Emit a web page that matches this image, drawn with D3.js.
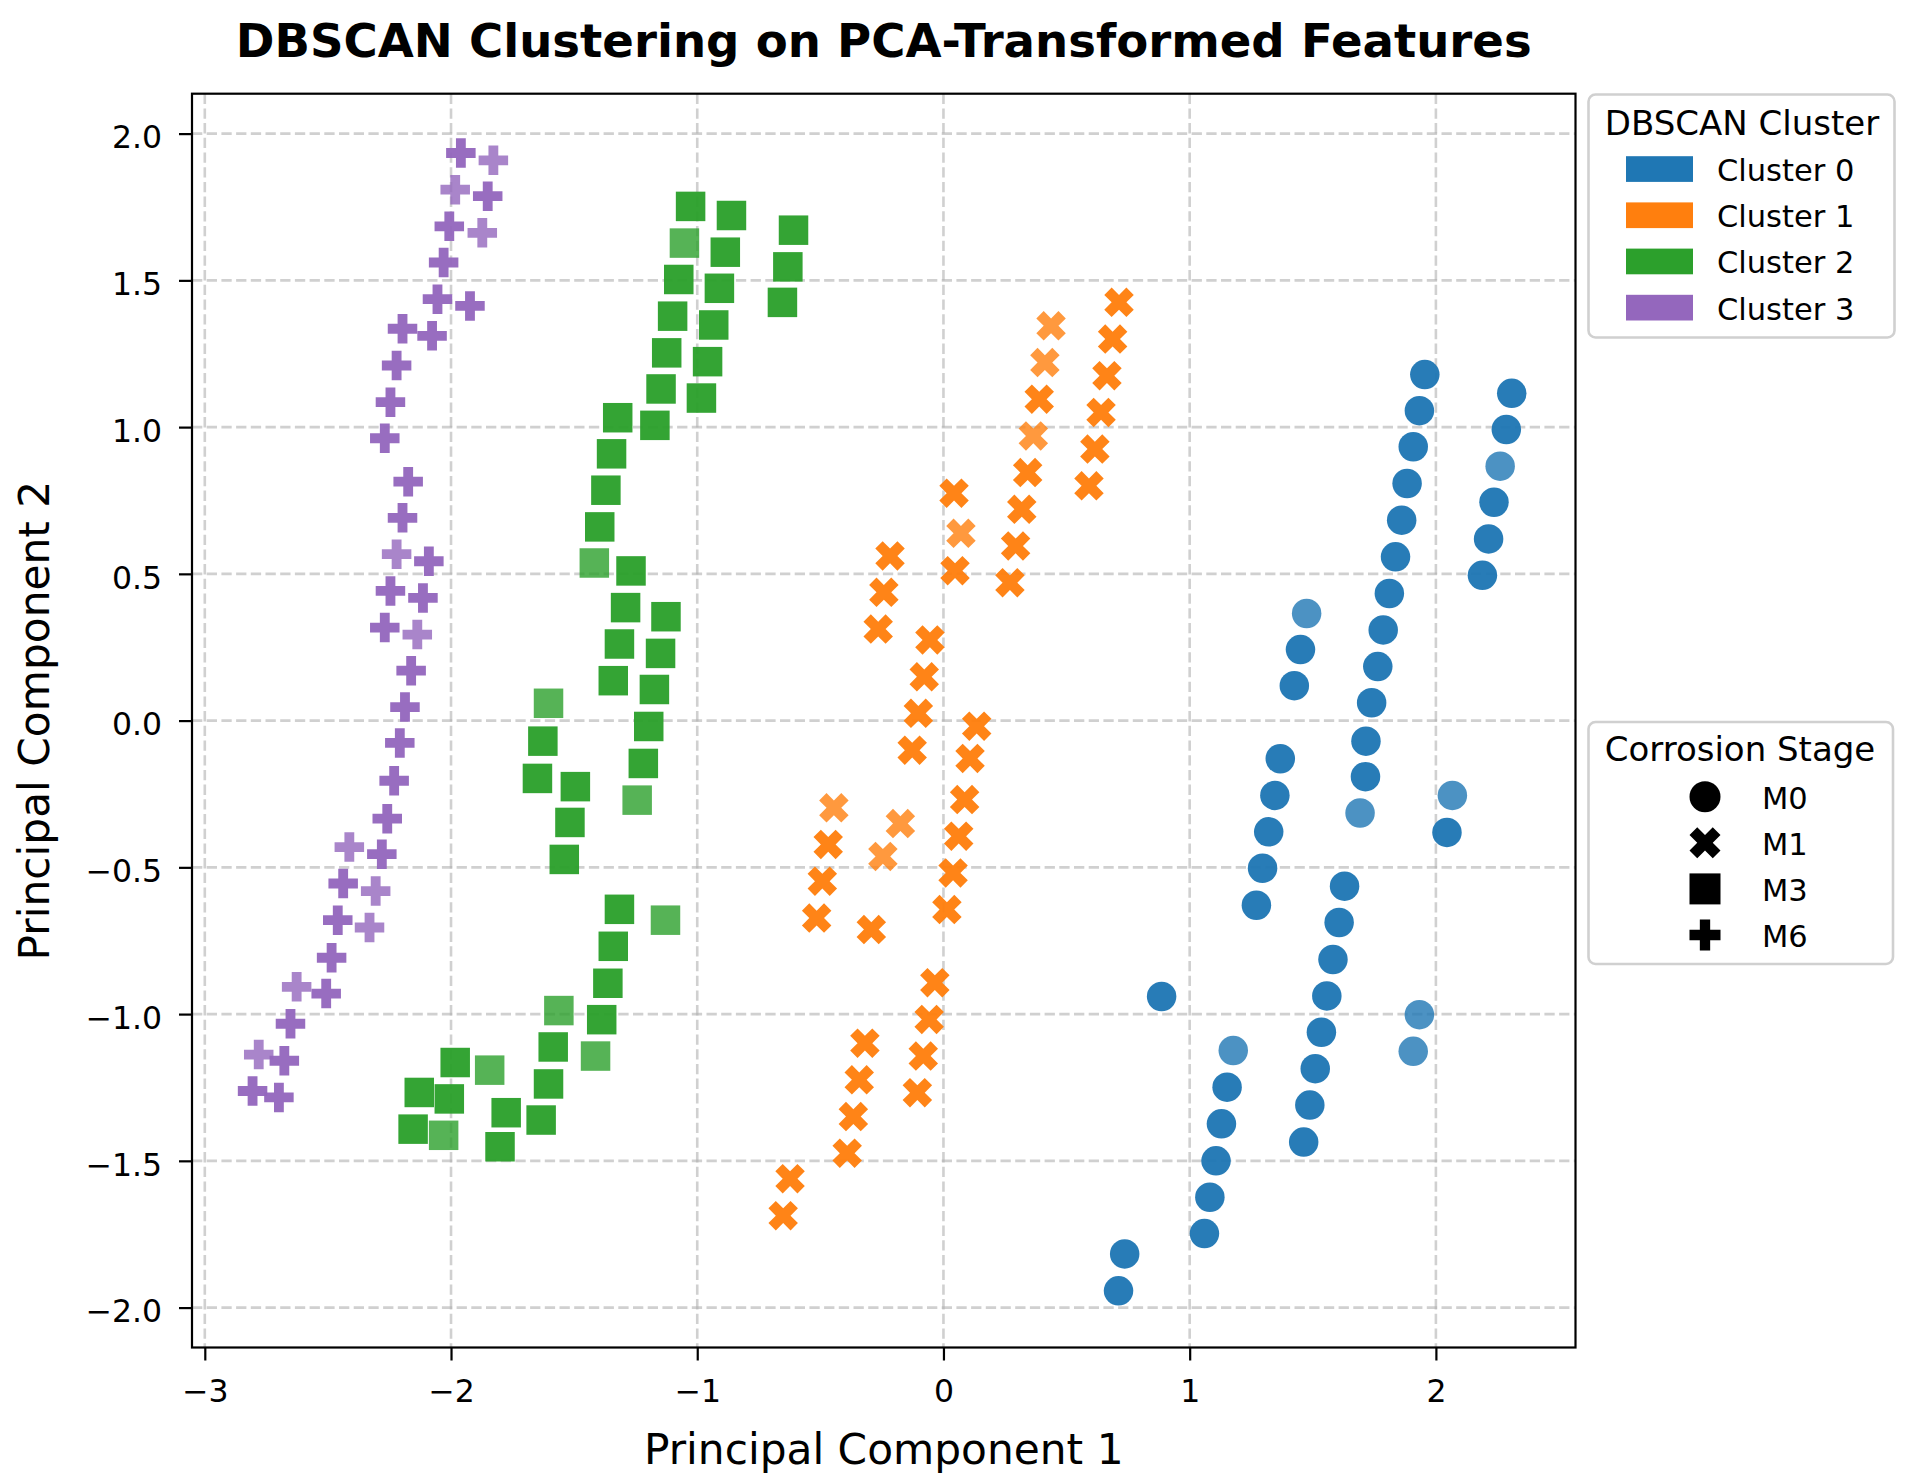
<!DOCTYPE html>
<html><head><meta charset="utf-8">
<script src="https://cdn.jsdelivr.net/npm/d3@7"></script>
<style>body{margin:0;background:#fff} text{font-family:"DejaVu Sans",sans-serif;fill:#000}</style>
</head><body><svg id="chart" width="1916" height="1483"></svg>
<script>
const clusterNames = ["Cluster 0", "Cluster 1", "Cluster 2", "Cluster 3"];
const clusterColors = ["#1f77b4", "#ff7f0e", "#2ca02c", "#9467bd"];
const stageNames = ["M0", "M1", "M3", "M6"];
const xTicks = [-3, -2, -1, 0, 1, 2];
const yTicks = [-2, -1.5, -1, -0.5, 0, 0.5, 1, 1.5, 2];

// points: [PC1, PC2, single] ; single = 1 -> lone (lighter) point, 0 -> overlapping duplicate
const cluster0 = [[1.955,1.179,0],[2.308,1.115,0],[1.933,1.056,0],[2.286,0.992,0],[1.908,0.933,0],[2.261,0.867,1],[1.883,0.808,0],[2.236,0.744,0],[1.861,0.683,0],[2.214,0.619,0],[1.836,0.558,0],[2.189,0.495,0],[1.811,0.433,0],[1.475,0.365,1],[1.786,0.309,0],[1.450,0.242,0],[1.764,0.184,0],[1.425,0.119,0],[1.739,0.061,0],[1.716,-0.070,0],[1.368,-0.130,0],[1.714,-0.191,0],[2.067,-0.255,1],[1.346,-0.255,0],[1.692,-0.315,1],[1.321,-0.379,0],[2.045,-0.381,0],[1.296,-0.503,0],[1.629,-0.564,0],[1.271,-0.629,0],[1.607,-0.688,0],[1.582,-0.814,0],[0.886,-0.940,0],[1.557,-0.938,0],[1.933,-1.002,1],[1.535,-1.062,0],[1.177,-1.124,1],[1.908,-1.127,1],[1.510,-1.186,0],[1.152,-1.249,0],[1.488,-1.310,0],[1.129,-1.374,0],[1.463,-1.436,0],[1.107,-1.500,0],[1.082,-1.624,0],[1.060,-1.748,0],[0.736,-1.817,0],[0.711,-1.943,0]];
const cluster1 = [[0.713,1.425,0],[0.437,1.345,1],[0.687,1.300,0],[0.412,1.220,1],[0.664,1.175,0],[0.389,1.095,0],[0.640,1.050,0],[0.365,0.970,1],[0.615,0.925,0],[0.342,0.845,0],[0.591,0.800,0],[0.318,0.720,0],[0.043,0.775,0],[0.071,0.638,1],[0.293,0.595,0],[0.047,0.511,0],[0.270,0.470,0],[-0.217,0.561,0],[-0.242,0.437,0],[-0.265,0.312,0],[-0.055,0.275,0],[-0.078,0.149,0],[-0.102,0.025,0],[0.135,-0.019,0],[-0.127,-0.101,0],[0.108,-0.129,0],[0.086,-0.269,0],[-0.445,-0.297,1],[-0.175,-0.351,1],[-0.468,-0.422,0],[0.062,-0.394,0],[-0.246,-0.463,1],[-0.492,-0.547,0],[0.039,-0.519,0],[-0.515,-0.673,0],[-0.293,-0.712,0],[0.014,-0.644,0],[-0.035,-0.893,0],[-0.058,-1.018,0],[-0.319,-1.099,0],[-0.082,-1.143,0],[-0.342,-1.224,0],[-0.106,-1.268,0],[-0.366,-1.349,0],[-0.391,-1.474,0],[-0.623,-1.561,0],[-0.651,-1.687,0]];
const cluster2 = [[-1.027,1.752,0],[-0.861,1.721,0],[-0.609,1.671,0],[-1.052,1.627,1],[-0.886,1.596,0],[-1.075,1.503,0],[-0.632,1.546,0],[-0.910,1.473,0],[-0.654,1.425,0],[-1.100,1.378,0],[-0.933,1.348,0],[-1.124,1.253,0],[-0.958,1.223,0],[-1.147,1.130,0],[-0.983,1.099,0],[-1.323,1.032,0],[-1.172,1.006,0],[-1.348,0.909,0],[-1.371,0.785,0],[-1.396,0.660,0],[-1.418,0.537,1],[-1.269,0.510,0],[-1.291,0.385,0],[-1.127,0.354,0],[-1.316,0.261,0],[-1.149,0.229,0],[-1.341,0.136,0],[-1.174,0.106,0],[-1.604,0.059,1],[-1.197,-0.020,0],[-1.627,-0.070,0],[-1.649,-0.197,0],[-1.219,-0.146,0],[-1.495,-0.225,0],[-1.244,-0.271,1],[-1.517,-0.347,0],[-1.540,-0.473,0],[-1.316,-0.643,0],[-1.129,-0.680,1],[-1.341,-0.769,0],[-1.363,-0.895,0],[-1.562,-0.988,1],[-1.388,-1.019,0],[-1.585,-1.112,0],[-1.413,-1.143,1],[-1.983,-1.165,0],[-1.843,-1.191,1],[-2.129,-1.267,0],[-2.007,-1.289,0],[-1.604,-1.238,0],[-1.776,-1.336,0],[-2.154,-1.392,0],[-2.030,-1.413,1],[-1.634,-1.361,0],[-1.801,-1.452,0]];
const cluster3 = [[-1.960,1.934,0],[-1.828,1.909,1],[-1.983,1.809,1],[-1.851,1.787,0],[-2.007,1.684,0],[-1.873,1.662,1],[-2.030,1.561,0],[-2.055,1.436,0],[-1.923,1.413,0],[-2.197,1.335,0],[-2.077,1.311,0],[-2.221,1.210,0],[-2.246,1.085,0],[-2.269,0.962,0],[-2.174,0.814,0],[-2.197,0.691,0],[-2.221,0.567,1],[-2.090,0.543,0],[-2.246,0.442,0],[-2.114,0.418,0],[-2.269,0.317,0],[-2.137,0.293,1],[-2.162,0.170,0],[-2.187,0.046,0],[-2.208,-0.076,0],[-2.231,-0.205,0],[-2.259,-0.334,0],[-2.413,-0.431,1],[-2.281,-0.455,0],[-2.438,-0.555,0],[-2.306,-0.581,1],[-2.460,-0.680,0],[-2.331,-0.705,1],[-2.485,-0.808,0],[-2.627,-0.907,1],[-2.507,-0.930,0],[-2.652,-1.033,0],[-2.781,-1.138,1],[-2.677,-1.159,0],[-2.806,-1.262,0],[-2.699,-1.284,0]];
const clusters = [cluster0, cluster1, cluster2, cluster3];

// ---------- layout ----------
const svg = d3.select("#chart");
const L = 192, R = 1575.5, T = 93.7, B = 1347.5;
const x = d3.scaleLinear().domain([-3.052, 2.567]).range([L, R]);
const y = d3.scaleLinear().domain([-2.136, 2.136]).range([B, T]);

svg.append("rect").attr("width", 1916).attr("height", 1483).attr("fill", "#fff");

// marker shapes (unit size 1, matplotlib-like)
const lineClosed = d3.line().curve(d3.curveLinearClosed);
const xFilled = [[-1,-2],[0,-1],[1,-2],[2,-1],[1,0],[2,1],[1,2],[0,1],[-1,2],[-2,1],[-1,0],[-2,-1]].map(p => [p[0]/4, p[1]/4]);
const plusFilled = [[-1,-3],[1,-3],[1,-1],[3,-1],[3,1],[1,1],[1,3],[-1,3],[-1,1],[-3,1],[-3,-1],[-1,-1]].map(p => [p[0]/6, p[1]/6]);
const square = [[-0.5,-0.5],[0.5,-0.5],[0.5,0.5],[-0.5,0.5]];
function markerPath(stage, s) {
  if (stage === 0) {
    const p = d3.path(); p.arc(0, 0, s / 2, 0, 2 * Math.PI); p.closePath(); return p.toString();
  }
  const pts = stage === 1 ? xFilled : stage === 2 ? square : plusFilled;
  return lineClosed(pts.map(v => [v[0] * s, v[1] * s]));
}

// grid
const grid = svg.append("g");
grid.selectAll(".gx").data(xTicks).join("line")
  .attr("x1", d => x(d)).attr("x2", d => x(d)).attr("y1", T).attr("y2", B)
  .attr("stroke", "#b0b0b0").attr("stroke-opacity", 0.6).attr("stroke-width", 2.6).attr("stroke-dasharray", "10.3 4.4");
grid.selectAll(".gy").data(yTicks).join("line")
  .attr("y1", d => y(d)).attr("y2", d => y(d)).attr("x1", L).attr("x2", R)
  .attr("stroke", "#b0b0b0").attr("stroke-opacity", 0.6).attr("stroke-width", 2.6).attr("stroke-dasharray", "10.3 4.4");

// points
const MS = 29.5;
clusters.forEach((pts, ci) => {
  svg.append("g").selectAll("path").data(pts).join("path")
    .attr("d", markerPath(ci, MS))
    .attr("transform", d => `translate(${x(d[0])},${y(d[1])})`)
    .attr("fill", clusterColors[ci])
    .attr("fill-opacity", d => d[2] ? 0.8 : 0.96);
});

// axes
const xAxis = d3.axisBottom(x).tickValues(xTicks).tickFormat(d3.format("d")).tickSize(13).tickPadding(19);
const yAxis = d3.axisLeft(y).tickValues(yTicks).tickFormat(d3.format(".1f")).tickSize(13).tickPadding(17);
const gx = svg.append("g").attr("transform", `translate(0,${B})`).call(xAxis);
const gy = svg.append("g").attr("transform", `translate(${L},0)`).call(yAxis);
[gx, gy].forEach(g => {
  g.select(".domain").remove();
  g.selectAll(".tick line").attr("stroke", "#000").attr("stroke-width", 2.2);
  g.selectAll(".tick text").attr("font-size", 31.5).attr("font-family", "DejaVu Sans").attr("fill", "#000");
});
gx.selectAll(".tick text").attr("dy", "0.71em");
gy.selectAll(".tick text").attr("dy", "0.45em");

// frame
svg.append("rect").attr("x", L).attr("y", T).attr("width", R - L).attr("height", B - T)
  .attr("fill", "none").attr("stroke", "#000").attr("stroke-width", 2.2);

// labels
svg.append("text").attr("x", (L + R) / 2).attr("y", 56.6).attr("text-anchor", "middle")
  .attr("font-size", 46.6).attr("font-weight", "bold").text("DBSCAN Clustering on PCA-Transformed Features");
svg.append("text").attr("x", (L + R) / 2).attr("y", 1464).attr("text-anchor", "middle")
  .attr("font-size", 42.3).text("Principal Component 1");
svg.append("text").attr("transform", `translate(49,${(T + B) / 2}) rotate(-90)`).attr("text-anchor", "middle")
  .attr("font-size", 42.3).text("Principal Component 2");

// legend 1 : clusters
const lg1 = svg.append("g");
lg1.append("rect").attr("x", 1588.5).attr("y", 94.5).attr("width", 306).attr("height", 243).attr("rx", 7)
  .attr("fill", "#fff").attr("fill-opacity", 0.8).attr("stroke", "#d0d0d0").attr("stroke-width", 2.6);
lg1.append("text").attr("x", 1742).attr("y", 135).attr("text-anchor", "middle").attr("font-size", 34).text("DBSCAN Cluster");
const rows1 = lg1.selectAll(".row").data(clusterNames).join("g")
  .attr("transform", (d, i) => `translate(0,${169 + i * 46.2})`);
rows1.append("rect").attr("x", 1626).attr("y", -12.8).attr("width", 67).attr("height", 25.7)
  .attr("fill", (d, i) => clusterColors[i]);
rows1.append("text").attr("x", 1717).attr("y", 12).attr("font-size", 30.5).text(d => d);

// legend 2 : stages
const lg2 = svg.append("g");
lg2.append("rect").attr("x", 1588.5).attr("y", 722).attr("width", 304.5).attr("height", 242).attr("rx", 7)
  .attr("fill", "#fff").attr("fill-opacity", 0.8).attr("stroke", "#d0d0d0").attr("stroke-width", 2.6);
lg2.append("text").attr("x", 1740).attr("y", 761).attr("text-anchor", "middle").attr("font-size", 34).text("Corrosion Stage");
const rows2 = lg2.selectAll(".row").data(stageNames).join("g")
  .attr("transform", (d, i) => `translate(0,${796.7 + i * 46.1})`);
rows2.append("path").attr("d", (d, i) => markerPath(i, 31)).attr("transform", "translate(1705,0)").attr("fill", "#000");
rows2.append("text").attr("x", 1762).attr("y", 12).attr("font-size", 30.5).text(d => d);
</script>
</body></html>
